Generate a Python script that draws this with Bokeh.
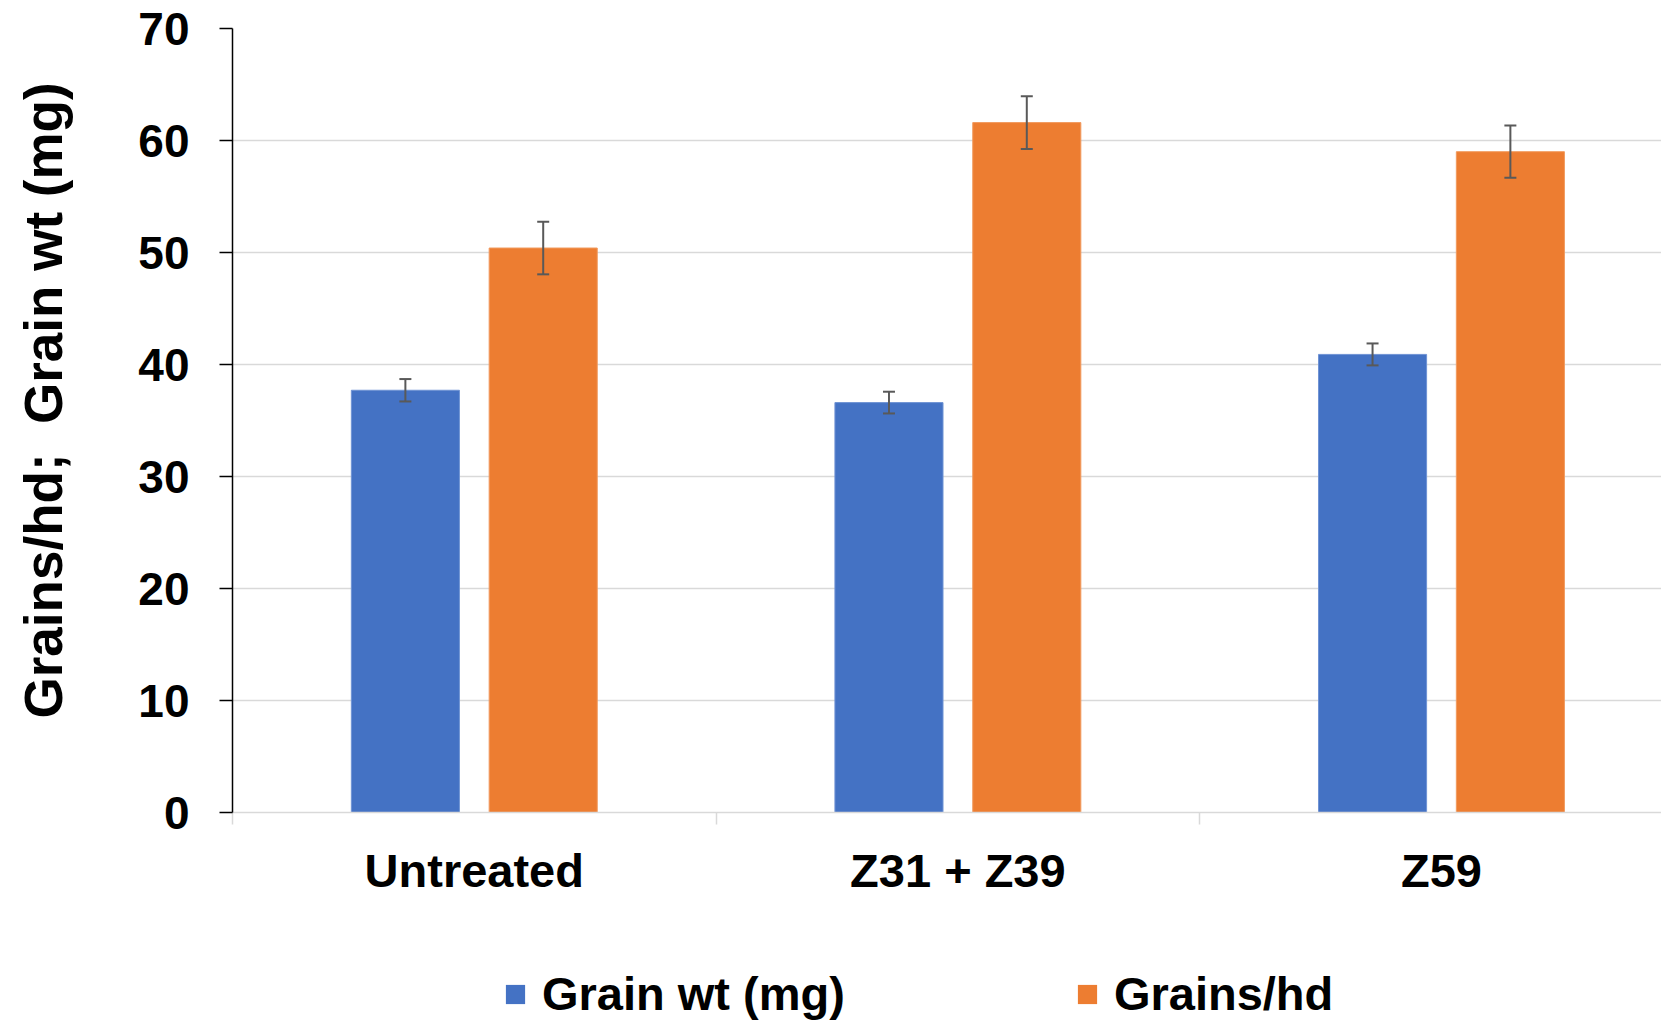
from bokeh.plotting import figure
from bokeh.layouts import column
from bokeh.models import (ColumnDataSource, Range1d, FixedTicker, Whisker, TeeHead,
                          Legend, LegendItem)
from bokeh.embed import file_html
from bokeh.resources import INLINE

categories = ["Untreated", "Z31 + Z39", "Z59"]
grain_wt = [37.7, 36.6, 40.9]
grain_wt_err = [1.0, 0.97, 0.98]
grains_hd = [50.4, 61.6, 59.0]
grains_hd_err = [2.35, 2.35, 2.33]
y_ticks = [0, 10, 20, 30, 40, 50, 60, 70]
series_names = ["Grain wt (mg)", "Grains/hd"]
y_title = "\u00a0\u00a0\u2009Grains/hd;\u00a0\u00a0Grain wt (mg)"

FONT = "Liberation Sans"
BLUE = "#4472C4"
ORANGE = "#ED7D31"
GRID = "#D9D9D9"
ERR = "#595959"

OFFSET = 0.1425
BAR_W = 0.2235
X_END = 2.955

centers = [i + 0.5 for i in range(len(categories))]
src_wt = ColumnDataSource(dict(
    x=[c - OFFSET for c in centers], top=grain_wt,
    upper=[v + e for v, e in zip(grain_wt, grain_wt_err)],
    lower=[v - e for v, e in zip(grain_wt, grain_wt_err)]))
src_hd = ColumnDataSource(dict(
    x=[c + OFFSET for c in centers], top=grains_hd,
    upper=[v + e for v, e in zip(grains_hd, grains_hd_err)],
    lower=[v - e for v, e in zip(grains_hd, grains_hd_err)]))

p = figure(width=1661, height=940, output_backend="svg", toolbar_location=None,
           x_range=Range1d(0, X_END), y_range=Range1d(0, 70),
           min_border_left=232, min_border_right=0, min_border_top=28,
           min_border_bottom=128)
p.outline_line_color = None
p.background_fill_color = "white"
p.border_fill_color = "white"

r1 = p.vbar(x="x", top="top", width=BAR_W, bottom=0, source=src_wt,
            fill_color=BLUE, line_color="#6F93D4", line_width=1)
r2 = p.vbar(x="x", top="top", width=BAR_W, bottom=0, source=src_hd,
            fill_color=ORANGE, line_color="#F19A5E", line_width=1)

for src in (src_wt, src_hd):
    w = Whisker(base="x", upper="upper", lower="lower", source=src,
                line_color=ERR, line_width=2, level="overlay",
                upper_head=TeeHead(size=12, line_color=ERR, line_width=2),
                lower_head=TeeHead(size=12, line_color=ERR, line_width=2))
    p.add_layout(w)

# grid
p.xgrid.visible = False
p.ygrid.ticker = FixedTicker(ticks=y_ticks)
p.ygrid.grid_line_color = GRID
p.ygrid.grid_line_width = 1.5

# y axis
ya = p.yaxis[0]
ya.ticker = FixedTicker(ticks=y_ticks)
ya.axis_line_color = "black"
ya.axis_line_width = 1.5
ya.major_tick_line_color = "black"
ya.major_tick_line_width = 1.5
ya.major_tick_out = 13
ya.major_tick_in = 0
ya.minor_tick_line_color = None
ya.major_label_text_font = FONT
ya.major_label_text_font_style = "bold"
ya.major_label_text_font_size = "46px"
ya.major_label_text_color = "black"
ya.major_label_standoff = 30
ya.axis_label = y_title
ya.axis_label_text_font = FONT
ya.axis_label_text_font_style = "bold"
ya.axis_label_text_font_size = "53px"
ya.axis_label_text_color = "black"
ya.axis_label_standoff = 62

# x axis
xa = p.xaxis[0]
xa.ticker = FixedTicker(ticks=centers, minor_ticks=[0, 1, 2, 3])
xa.major_label_overrides = {c: name for c, name in zip(centers, categories)}
xa.axis_line_color = GRID
xa.axis_line_width = 1.5
xa.major_tick_line_color = None
xa.major_tick_out = 0
xa.major_tick_in = 0
xa.minor_tick_line_color = GRID
xa.minor_tick_line_width = 1.5
xa.minor_tick_out = 12
xa.minor_tick_in = 0
xa.major_label_text_font = FONT
xa.major_label_text_font_style = "bold"
xa.major_label_text_font_size = "47px"
xa.major_label_text_color = "black"
xa.major_label_standoff = 19

# legend strip below the chart (its renderers lie far outside its visible ranges)
lg = figure(width=1661, height=82, output_backend="svg", toolbar_location=None,
            x_range=Range1d(-1000, -1000 + X_END), y_range=Range1d(-1000, -999),
            min_border_left=0, min_border_right=0, min_border_top=0,
            min_border_bottom=0)
lg.axis.visible = False
lg.grid.visible = False
lg.outline_line_color = None
lg.border_fill_color = "white"
lr1 = lg.vbar(x="x", top="top", width=BAR_W, bottom=0, source=src_wt,
              fill_color=BLUE, line_color=None)
lr2 = lg.vbar(x="x", top="top", width=BAR_W, bottom=0, source=src_hd,
              fill_color=ORANGE, line_color=None)

legend = Legend(items=[LegendItem(label=series_names[0], renderers=[lr1]),
                       LegendItem(label=series_names[1], renderers=[lr2])],
                orientation="horizontal", location=(271, 1),
                padding=0, margin=0, spacing=230,
                glyph_width=24, glyph_height=24, label_standoff=15,
                border_line_color=None, background_fill_alpha=0,
                label_text_font=FONT, label_text_font_style="bold",
                label_text_font_size="47px", label_text_color="black")
lg.add_layout(legend, "center")

layout = column(p, lg, spacing=0)
open("out.html", "w").write(file_html(layout, INLINE))
